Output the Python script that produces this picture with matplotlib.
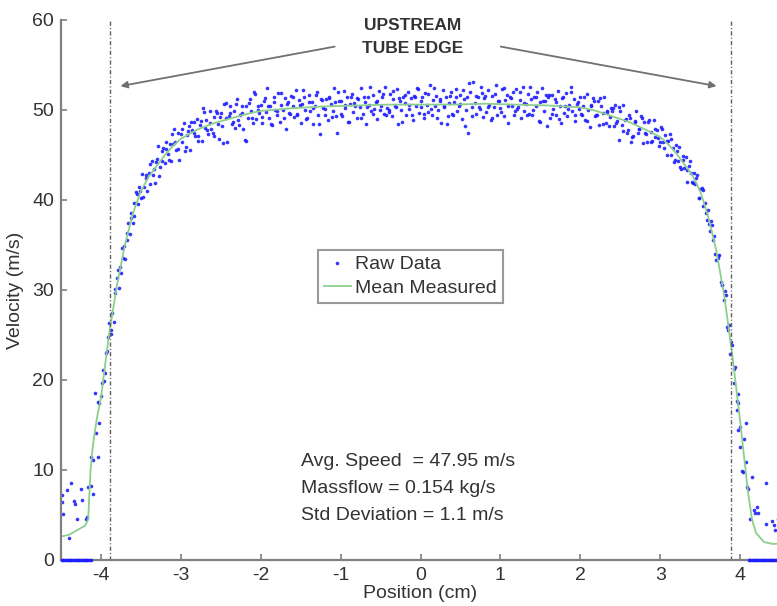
import numpy as np
import matplotlib.pyplot as plt

plt.rcParams['font.family'] = ['Liberation Sans', 'DejaVu Sans']
plt.rcParams['axes.unicode_minus'] = False

# mean measured profile (green line)
mean_x = [-4.5, -4.4, -4.3, -4.2, -4.16, -4.13, -4.1, -4.05, -4.0, -3.9, -3.8, -3.7, -3.6, -3.5,
          -3.4, -3.3, -3.2, -3.1, -3.0, -2.8, -2.6, -2.4, -2.2, -2.0, -1.6, -1.2, -0.8, -0.4,
          0.0, 0.4, 0.8, 1.2, 1.6, 2.0, 2.2, 2.4, 2.6, 2.8, 3.0, 3.1, 3.2, 3.3, 3.4, 3.5,
          3.6, 3.7, 3.8, 3.9, 4.0, 4.05, 4.1, 4.15, 4.2, 4.3, 4.4, 4.5]
mean_y = [2.6, 2.8, 3.3, 3.8, 4.5, 10.0, 12.8, 15.8, 18.0, 25.0, 30.5, 35.0, 38.5, 41.0,
          42.6, 43.8, 45.0, 46.0, 46.8, 47.8, 48.5, 49.0, 49.5, 49.9, 50.2, 50.4, 50.5, 50.6,
          50.6, 50.6, 50.7, 50.6, 50.5, 50.3, 49.9, 49.3, 48.7, 47.9, 47.0, 46.2, 45.2, 44.0, 42.8, 41.0,
          38.2, 34.5, 29.5, 23.0, 15.5, 11.5, 7.5, 4.5, 3.0, 2.0, 1.8, 1.8]

# raw samples across the tube, first traverse
raw_x = [-4.00, -3.98, -3.96, -3.94, -3.92, -3.90, -3.88, -3.86, -3.84, -3.82,
         -3.80, -3.78, -3.76, -3.74, -3.72, -3.70, -3.68, -3.66, -3.64, -3.62,
         -3.60, -3.58, -3.56, -3.54, -3.52, -3.50, -3.48, -3.46, -3.44, -3.42,
         -3.40, -3.38, -3.36, -3.34, -3.32, -3.30, -3.28, -3.26, -3.24, -3.22,
         -3.20, -3.18, -3.16, -3.14, -3.12, -3.10, -3.08, -3.06, -3.04, -3.02,
         -3.00, -2.98, -2.96, -2.94, -2.92, -2.90, -2.88, -2.86, -2.84, -2.82,
         -2.80, -2.78, -2.76, -2.74, -2.72, -2.70, -2.68, -2.66, -2.64, -2.62,
         -2.60, -2.58, -2.56, -2.54, -2.52, -2.50, -2.48, -2.46, -2.44, -2.42,
         -2.40, -2.38, -2.36, -2.34, -2.32, -2.30, -2.28, -2.26, -2.24, -2.22,
         -2.20, -2.18, -2.16, -2.14, -2.12, -2.10, -2.08, -2.06, -2.04, -2.02,
         -2.00, -1.98, -1.96, -1.94, -1.92, -1.90, -1.88, -1.86, -1.84, -1.82,
         -1.80, -1.78, -1.76, -1.74, -1.72, -1.70, -1.68, -1.66, -1.64, -1.62,
         -1.60, -1.58, -1.56, -1.54, -1.52, -1.50, -1.48, -1.46, -1.44, -1.42,
         -1.40, -1.38, -1.36, -1.34, -1.32, -1.30, -1.28, -1.26, -1.24, -1.22,
         -1.20, -1.18, -1.16, -1.14, -1.12, -1.10, -1.08, -1.06, -1.04, -1.02,
         -1.00, -0.98, -0.96, -0.94, -0.92, -0.90, -0.88, -0.86, -0.84, -0.82,
         -0.80, -0.78, -0.76, -0.74, -0.72, -0.70, -0.68, -0.66, -0.64, -0.62,
         -0.60, -0.58, -0.56, -0.54, -0.52, -0.50, -0.48, -0.46, -0.44, -0.42,
         -0.40, -0.38, -0.36, -0.34, -0.32, -0.30, -0.28, -0.26, -0.24, -0.22,
         -0.20, -0.18, -0.16, -0.14, -0.12, -0.10, -0.08, -0.06, -0.04, -0.02,
         0.00, 0.02, 0.04, 0.06, 0.08, 0.10, 0.12, 0.14, 0.16, 0.18,
         0.20, 0.22, 0.24, 0.26, 0.28, 0.30, 0.32, 0.34, 0.36, 0.38,
         0.40, 0.42, 0.44, 0.46, 0.48, 0.50, 0.52, 0.54, 0.56, 0.58,
         0.60, 0.62, 0.64, 0.66, 0.68, 0.70, 0.72, 0.74, 0.76, 0.78,
         0.80, 0.82, 0.84, 0.86, 0.88, 0.90, 0.92, 0.94, 0.96, 0.98,
         1.00, 1.02, 1.04, 1.06, 1.08, 1.10, 1.12, 1.14, 1.16, 1.18,
         1.20, 1.22, 1.24, 1.26, 1.28, 1.30, 1.32, 1.34, 1.36, 1.38,
         1.40, 1.42, 1.44, 1.46, 1.48, 1.50, 1.52, 1.54, 1.56, 1.58,
         1.60, 1.62, 1.64, 1.66, 1.68, 1.70, 1.72, 1.74, 1.76, 1.78,
         1.80, 1.82, 1.84, 1.86, 1.88, 1.90, 1.92, 1.94, 1.96, 1.98,
         2.00, 2.02, 2.04, 2.06, 2.08, 2.10, 2.12, 2.14, 2.16, 2.18,
         2.20, 2.22, 2.24, 2.26, 2.28, 2.30, 2.32, 2.34, 2.36, 2.38,
         2.40, 2.42, 2.44, 2.46, 2.48, 2.50, 2.52, 2.54, 2.56, 2.58,
         2.60, 2.62, 2.64, 2.66, 2.68, 2.70, 2.72, 2.74, 2.76, 2.78,
         2.80, 2.82, 2.84, 2.86, 2.88, 2.90, 2.92, 2.94, 2.96, 2.98,
         3.00, 3.02, 3.04, 3.06, 3.08, 3.10, 3.12, 3.14, 3.16, 3.18,
         3.20, 3.22, 3.24, 3.26, 3.28, 3.30, 3.32, 3.34, 3.36, 3.38,
         3.40, 3.42, 3.44, 3.46, 3.48, 3.50, 3.52, 3.54, 3.56, 3.58,
         3.60, 3.62, 3.64, 3.66, 3.68, 3.70, 3.72, 3.74, 3.76, 3.78,
         3.80, 3.82, 3.84, 3.86, 3.88, 3.90, 3.92, 3.94, 3.96, 3.98,
         4.00]
raw_y = [18.2, 21.1, 19.9, 23.0, 23.2, 26.3, 25.1, 27.4, 26.5, 30.1,
         31.3, 30.2, 32.6, 34.7, 33.6, 33.4, 36.3, 37.5, 36.2, 38.0,
         37.4, 39.7, 40.9, 39.6, 41.4, 40.2, 42.9, 41.4, 42.5, 41.0,
         43.0, 41.8, 44.3, 43.4, 41.9, 44.6, 46.0, 43.7, 44.3, 45.8,
         44.1, 46.5, 45.1, 46.2, 44.3, 46.2, 47.9, 45.6, 47.4, 44.5,
         47.3, 46.5, 48.6, 45.9, 47.2, 48.2, 45.6, 47.8, 48.7, 47.1,
         49.0, 47.1, 48.3, 46.6, 50.2, 48.0, 48.9, 47.3, 49.9, 47.9,
         47.4, 49.2, 49.9, 48.4, 46.8, 49.7, 48.2, 50.7, 49.1, 46.4,
         49.3, 50.5, 48.4, 49.9, 48.0, 51.2, 48.9, 49.5, 50.4, 47.9,
         46.7, 50.4, 49.1, 51.2, 49.9, 48.6, 52.0, 49.0, 50.4, 49.7,
         50.6, 48.6, 51.0, 49.8, 52.4, 49.1, 50.4, 48.3, 51.5, 50.0,
         49.5, 51.9, 48.7, 50.6, 50.0, 51.3, 47.9, 50.9, 49.7, 51.6,
         50.4, 49.2, 52.2, 49.5, 51.1, 48.6, 50.7, 51.5, 50.0, 49.1,
         51.7, 49.9, 50.9, 48.4, 50.4, 52.0, 49.5, 47.3, 51.2, 50.2,
         49.5, 51.2, 48.9, 51.5, 50.7, 49.9, 52.5, 49.3, 47.5, 51.0,
         51.0, 49.3, 52.1, 50.2, 51.4, 48.7, 50.7, 51.8, 49.8, 50.5,
         49.1, 51.2, 50.3, 52.4, 49.6, 50.9, 48.5, 51.5, 50.6, 49.9,
         51.7, 50.1, 50.9, 49.0, 52.1, 50.5, 51.4, 49.6, 52.6, 50.2,
         49.8, 51.8, 49.3, 51.2, 50.4, 52.3, 48.5, 51.0, 50.0, 51.5,
         50.8, 49.5, 52.0, 50.1, 51.3, 48.9, 51.6, 50.4, 52.4, 49.7,
         50.3, 51.5, 49.1, 51.9, 50.6, 49.8, 52.8, 49.4, 51.1, 50.5,
         51.6, 50.0, 51.0, 48.6, 52.2, 50.3, 51.4, 49.3, 50.8, 52.0,
         49.6, 50.9, 52.3, 49.9, 50.4, 51.7, 49.0, 51.2, 48.2, 51.5,
         47.4, 52.0, 50.3, 53.1, 50.8, 49.6, 51.4, 50.1, 52.6, 49.2,
         51.3, 49.8, 52.2, 50.6, 48.9, 51.6, 50.3, 52.8, 49.5, 51.0,
         50.2, 52.3, 49.3, 51.1, 51.7, 48.6, 51.4, 50.5, 52.0, 49.9,
         52.3, 50.3, 51.1, 49.1, 52.6, 49.9, 50.7, 51.8, 49.6, 51.2,
         49.4, 51.4, 50.4, 52.0, 48.8, 50.9, 52.4, 49.9, 51.0, 48.2,
         51.4, 49.1, 51.7, 50.1, 51.2, 49.5, 52.1, 50.4, 48.6, 51.4,
         49.7, 51.9, 49.3, 50.6, 52.6, 49.9, 51.2, 48.8, 50.7, 50.1,
         51.4, 49.5, 50.5, 48.9, 51.8, 50.0, 48.1, 50.6, 51.3, 49.3,
         49.5, 51.0, 48.3, 50.4, 49.7, 51.5, 48.6, 49.9, 48.2, 50.2,
         49.9, 48.2, 50.6, 48.8, 46.7, 49.9, 48.3, 50.6, 48.9, 47.5,
         47.8, 49.1, 46.4, 47.1, 48.7, 49.9, 47.5, 47.9, 49.3, 46.3,
         48.7, 47.3, 46.5, 48.9, 47.6, 46.6, 48.9, 47.0, 47.8, 46.0,
         46.4, 47.9, 46.5, 47.2, 45.0, 46.6, 47.3, 45.0, 45.8, 44.4,
         46.1, 44.3, 45.9, 43.4, 44.5, 43.6, 44.8, 42.0, 43.8, 43.0,
         42.0, 43.0, 41.8, 42.8, 40.2, 41.2, 41.3, 39.3, 39.7, 37.8,
         38.9, 36.6, 37.7, 35.6, 36.0, 33.3, 33.8, 33.9, 30.9, 30.6,
         28.9, 29.4, 25.9, 26.1, 22.9, 23.9, 21.2, 21.5, 17.7, 17.4,
         14.8]

# second traverse, interleaved positions
raw2_x = [-3.99, -3.95, -3.91, -3.87, -3.83, -3.79, -3.75, -3.71, -3.67, -3.63,
          -3.59, -3.55, -3.51, -3.47, -3.43, -3.39, -3.35, -3.31, -3.27, -3.23,
          -3.19, -3.15, -3.11, -3.07, -3.03, -2.99, -2.95, -2.91, -2.87, -2.83,
          -2.79, -2.75, -2.71, -2.67, -2.63, -2.59, -2.55, -2.51, -2.47, -2.43,
          -2.39, -2.35, -2.31, -2.27, -2.23, -2.19, -2.15, -2.11, -2.07, -2.03,
          -1.99, -1.95, -1.91, -1.87, -1.83, -1.79, -1.75, -1.71, -1.67, -1.63,
          -1.59, -1.55, -1.51, -1.47, -1.43, -1.39, -1.35, -1.31, -1.27, -1.23,
          -1.19, -1.15, -1.11, -1.07, -1.03, -0.99, -0.95, -0.91, -0.87, -0.83,
          -0.79, -0.75, -0.71, -0.67, -0.63, -0.59, -0.55, -0.51, -0.47, -0.43,
          -0.39, -0.35, -0.31, -0.27, -0.23, -0.19, -0.15, -0.11, -0.07, -0.03,
          0.01, 0.05, 0.09, 0.13, 0.17, 0.21, 0.25, 0.29, 0.33, 0.37,
          0.41, 0.45, 0.49, 0.53, 0.57, 0.61, 0.65, 0.69, 0.73, 0.77,
          0.81, 0.85, 0.89, 0.93, 0.97, 1.01, 1.05, 1.09, 1.13, 1.17,
          1.21, 1.25, 1.29, 1.33, 1.37, 1.41, 1.45, 1.49, 1.53, 1.57,
          1.61, 1.65, 1.69, 1.73, 1.77, 1.81, 1.85, 1.89, 1.93, 1.97,
          2.01, 2.05, 2.09, 2.13, 2.17, 2.21, 2.25, 2.29, 2.33, 2.37,
          2.41, 2.45, 2.49, 2.53, 2.57, 2.61, 2.65, 2.69, 2.73, 2.77,
          2.81, 2.85, 2.89, 2.93, 2.97, 3.01, 3.05, 3.09, 3.13, 3.17,
          3.21, 3.25, 3.29, 3.33, 3.37, 3.41, 3.45, 3.49, 3.53, 3.57,
          3.61, 3.65, 3.69, 3.73, 3.77, 3.81, 3.85, 3.89, 3.93, 3.97]
raw2_y = [19.7, 20.8, 24.8, 25.6, 29.7, 32.2, 31.9, 34.9, 35.6, 38.6,
          38.2, 40.7, 41.0, 40.3, 42.8, 44.0, 42.8, 44.2, 42.7, 45.5,
          45.7, 44.4, 47.3, 46.4, 45.7, 47.9, 45.5, 47.7, 48.7, 47.4,
          46.6, 48.8, 49.8, 47.8, 48.6, 47.1, 49.7, 49.2, 46.3, 50.8,
          49.7, 48.7, 50.7, 48.3, 49.7, 46.6, 50.8, 49.1, 51.8, 50.0,
          49.2, 51.3, 50.4, 48.5, 50.9, 49.9, 51.9, 49.1, 50.7, 49.6,
          51.5, 49.6, 50.6, 52.2, 49.0, 50.9, 50.2, 51.7, 48.5, 51.1,
          50.1, 51.3, 49.2, 50.9, 52.0, 49.6, 50.6, 48.7, 51.5, 50.8,
          51.3, 49.1, 51.5, 50.3, 52.6, 49.6, 51.0, 50.0, 51.8, 49.4,
          50.0, 52.1, 50.3, 51.3, 48.7, 51.7, 50.6, 49.4, 51.5, 52.3,
          51.0, 49.6, 51.8, 50.1, 52.4, 49.1, 51.2, 50.5, 48.4, 51.6,
          49.5, 51.4, 50.7, 52.2, 50.0, 53.0, 49.3, 51.6, 50.3, 51.9,
          51.6, 50.3, 49.1, 51.8, 51.0, 49.8, 52.4, 50.5, 51.3, 49.4,
          50.1, 52.0, 50.8, 49.5, 52.6, 50.0, 51.4, 48.7, 51.0, 51.7,
          51.7, 49.6, 50.9, 49.0, 51.3, 50.5, 50.1, 52.0, 49.4, 50.9,
          49.6, 51.4, 48.8, 50.4, 51.0, 49.4, 51.3, 48.5, 49.8, 49.2,
          50.2, 48.6, 50.3, 47.7, 49.0, 49.5, 47.0, 48.8, 47.9, 49.1,
          47.4, 48.7, 46.4, 47.9, 46.9, 48.1, 45.8, 46.6, 46.8, 44.2,
          45.5, 43.7, 44.9, 43.3, 44.3, 41.9, 42.4, 40.2, 41.1, 38.6,
          37.3, 37.2, 34.0, 33.6, 30.6, 29.9, 25.6, 24.2, 19.7, 18.4]

# scattered samples outside the tube edges
edge_x = [-4.49, -4.49, -4.47, -4.42, -4.40, -4.375, -4.34, -4.33, -4.30, -4.25, -4.24, -4.19,
          -4.17, -4.16, -4.13, -4.10, -4.125, -4.10, -4.04, -4.03, -4.08, -4.04, -4.02, -4.06,
          4.07, 4.05, 4.00, 4.07, 4.03, 4.04, 4.15, 4.09, 4.10, 4.32, 4.17, 4.21, 4.19, 4.23,
          4.12, 4.32, 4.40, 4.42, 4.44, 4.47, 4.49, 3.97, 3.96]
edge_y = [7.2, 6.4, 5.1, 7.8, 2.5, 8.6, 6.6, 6.2, 4.6, 7.9, 6.7, 4.6,
          4.8, 8.1, 8.2, 7.3, 11.5, 11.1, 11.5, 15.2, 18.6, 17.6, 17.4, 14.1,
          15.2, 13.4, 12.6, 10.9, 9.9, 9.8, 9.2, 8.1, 7.9, 8.6, 5.6, 5.9, 5.2, 5.2,
          4.6, 4.0, 4.3, 3.9, 3.3, 4.6, 3.6, 14.5, 16.7]

# samples reading zero beyond the jet
zero_x = [-4.49, -4.47, -4.45, -4.43, -4.41, -4.39, -4.37, -4.35, -4.33, -4.31, -4.29,
          -4.27, -4.25, -4.23, -4.21, -4.19, -4.17, -4.15, -4.13,
          4.11, 4.13, 4.15, 4.17, 4.19, 4.21, 4.23, 4.25, 4.27, 4.29, 4.31, 4.33,
          4.35, 4.37, 4.39, 4.41, 4.43, 4.45, 4.47, 4.49]
zero_y = [0.0] * len(zero_x)

tube_edges = [-3.89, 3.89]
stats_lines = ['Avg. Speed  = 47.95 m/s', 'Massflow = 0.154 kg/s', 'Std Deviation = 1.1 m/s']
stats_y = [10.9, 7.9, 4.9]

txt = '#333333'
grey = '#808080'
blue = '#2020ff'

fig = plt.figure(figsize=(7.77, 6.06), dpi=100)
ax = fig.add_axes([61 / 777, 46 / 606, 719 / 777, 540 / 606])

pts, = ax.plot(raw_x, raw_y, 'o', color=blue, ms=2.6, mew=0, alpha=0.9, label='Raw Data')
ax.plot(raw2_x, raw2_y, 'o', color=blue, ms=2.6, mew=0, alpha=0.9)
ax.plot(edge_x, edge_y, 'o', color=blue, ms=2.6, mew=0, alpha=0.9)
ax.plot(zero_x, zero_y, 'o', color=blue, ms=2.6, mew=0, clip_on=False, zorder=3)
line, = ax.plot(mean_x, mean_y, color='#8ccf8c', lw=1.3, label='Mean Measured')

for xe in tube_edges:
    ax.plot([xe, xe], [0, 60], color='#606060', lw=1.0, dashes=[3, 1.6, 0.8, 1.6])

ax.text(-0.1, 59.4, 'UPSTREAM', ha='center', va='center', fontsize=12.5,
        fontweight='bold', color='#333333')
ax.text(-0.1, 56.8, 'TUBE EDGE', ha='center', va='center', fontsize=12.5,
        fontweight='bold', color='#333333')
arrow = dict(arrowstyle='-|>', color='#707070', lw=1.3, mutation_scale=10)
ax.annotate('', xy=(-3.79, 52.6), xytext=(-1.04, 57.1), arrowprops=arrow)
ax.annotate('', xy=(3.74, 52.6), xytext=(0.97, 57.1), arrowprops=arrow)

for s, yy in zip(stats_lines, stats_y):
    ax.text(-1.5, yy, s, ha='left', va='center', fontsize=14, color=txt)

leg = ax.legend(handles=[pts, line], loc='upper left', bbox_to_anchor=(318 / 777, 1 - 250 / 606),
                bbox_transform=fig.transFigure, fontsize=14, frameon=True, fancybox=False,
                borderaxespad=0, borderpad=0.3, handlelength=1.4, handletextpad=0.2,
                labelspacing=0.3, markerscale=1.0)
leg.get_frame().set_edgecolor(grey)
leg.get_frame().set_linewidth(1.5)
for t in leg.get_texts():
    t.set_color(txt)

ax.set_xlim(-4.5, 4.5)
ax.set_ylim(0, 60)
ax.set_xticks([-4, -3, -2, -1, 0, 1, 2, 3, 4])
ax.set_yticks([0, 10, 20, 30, 40, 50, 60])
ax.spines['top'].set_visible(False)
ax.spines['right'].set_visible(False)
for sp in ['left', 'bottom']:
    ax.spines[sp].set_color(grey)
    ax.spines[sp].set_linewidth(1.6)
ax.tick_params(direction='in', length=4, width=1.2, color=grey, labelsize=14,
               labelcolor=txt, pad=5)

ax.set_xlabel('Position (cm)', fontsize=14, color=txt, labelpad=1)
ax.set_ylabel('Velocity (m/s)', fontsize=14, color=txt, labelpad=6)

fig.savefig('out.png', dpi=100)
